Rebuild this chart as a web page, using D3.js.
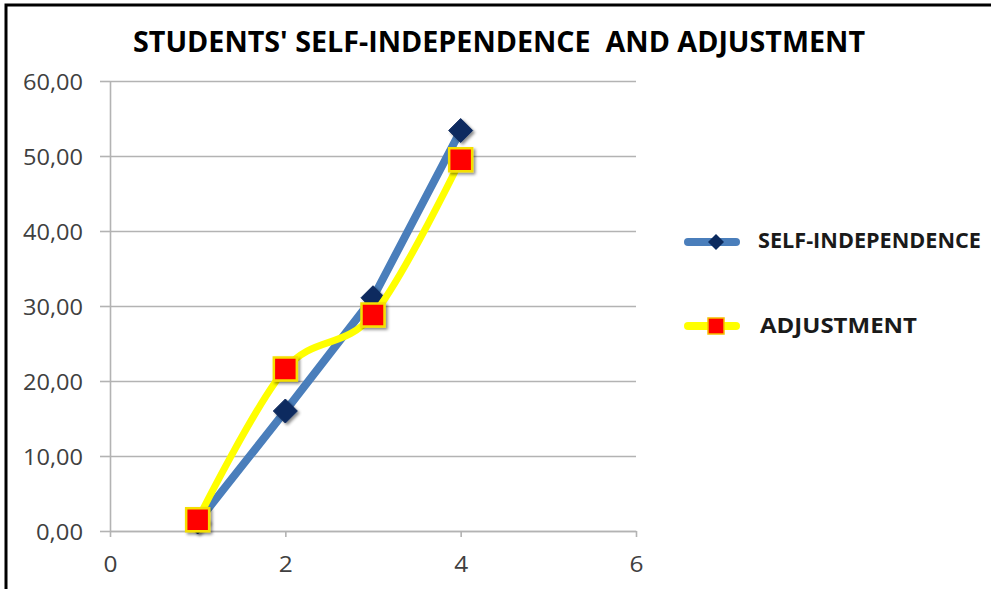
<!DOCTYPE html>
<html>
<head>
<meta charset="utf-8">
<script src="https://cdn.jsdelivr.net/npm/d3@7"></script>
<style>
  body { margin: 0; background: #fff; }
  text { font-family: "Open Sans", sans-serif; }
</style>
</head>
<body>
<div id="chart"></div>
<script>
var xValues = [1, 2, 3, 4];
var selfIndependence = [1.2, 16.0, 31.1, 53.4];
var adjustment = [1.5, 21.6, 28.8, 49.5];
var xTicks = [0, 2, 4, 6];
var yTicks = [0, 10, 20, 30, 40, 50, 60];
var seriesNames = ["SELF-INDEPENDENCE", "ADJUSTMENT"];

var width = 991, height = 589;
var svg = d3.select("#chart").append("svg")
    .attr("width", width)
    .attr("height", height);

var defs = svg.append("defs");
var shadow = defs.append("filter").attr("id", "shadow")
    .attr("x", "-50%").attr("y", "-50%").attr("width", "200%").attr("height", "200%");
shadow.append("feDropShadow")
    .attr("dx", 2).attr("dy", 2).attr("stdDeviation", 1.8)
    .attr("flood-color", "#000").attr("flood-opacity", 0.45);

// frame (left and top only)
svg.append("path")
    .attr("d", "M6," + height + "V5H" + width)
    .attr("fill", "none")
    .attr("stroke", "#000")
    .attr("stroke-width", 3);

var x = d3.scaleLinear().domain([0, 6]).range([110, 636]);
var y = d3.scaleLinear().domain([0, 60]).range([531, 81]);

var comma = d3.formatLocale({decimal: ",", thousands: ".", grouping: [3], currency: ["", ""]});
var fmt = comma.format(".2f");

// gridlines
svg.append("g")
    .attr("transform", "translate(110,0)")
    .call(d3.axisLeft(y).tickValues(yTicks).tickSize(-526).tickFormat(""))
    .call(function(g) {
      g.select(".domain").remove();
      g.selectAll("line").attr("stroke", "#b3b3b3").attr("stroke-width", 1.6);
    });

var yAxis = svg.append("g")
    .attr("transform", "translate(110,0)")
    .call(d3.axisLeft(y).tickValues(yTicks).tickSize(10).tickSizeOuter(0).tickPadding(17).tickFormat(fmt));
yAxis.select(".domain").attr("stroke", "#b3b3b3").attr("stroke-width", 1.6);
yAxis.selectAll("line").attr("stroke", "#b3b3b3").attr("stroke-width", 1.6);
yAxis.selectAll("text")
    .attr("font-size", 22)
    .attr("fill", "#404040")
    .attr("font-family", "Open Sans, sans-serif")
    .attr("textLength", function(d) { return fmt(d).length === 5 ? 60 : 47; })
    .attr("lengthAdjust", "spacingAndGlyphs")
    .attr("dy", "0.38em");

var xAxis = svg.append("g")
    .attr("transform", "translate(0,531)")
    .call(d3.axisBottom(x).tickValues(xTicks).tickSize(6).tickSizeOuter(0).tickPadding(19).tickFormat(d3.format("d")));
xAxis.select(".domain").attr("stroke", "#b3b3b3").attr("stroke-width", 1.6);
xAxis.selectAll("line").attr("stroke", "#b3b3b3").attr("stroke-width", 1.6);
xAxis.selectAll("text")
    .attr("font-size", 22)
    .attr("fill", "#404040")
    .attr("font-family", "Open Sans, sans-serif")
    .attr("textLength", 14)
    .attr("lengthAdjust", "spacingAndGlyphs");

// title
svg.append("text")
    .attr("x", 133)
    .attr("y", 52)
    .attr("font-size", 28)
    .attr("font-weight", "bold")
    .attr("fill", "#000")
    .attr("textLength", 732)
    .attr("lengthAdjust", "spacingAndGlyphs")
    .style("white-space", "pre")
    .text("STUDENTS' SELF-INDEPENDENCE  AND ADJUSTMENT");

var selfData = xValues.map(function(d, i) { return [d, selfIndependence[i]]; });
var adjData = xValues.map(function(d, i) { return [d, adjustment[i]]; });

var lineStraight = d3.line()
    .x(function(d) { return x(d[0]); })
    .y(function(d) { return y(d[1]); });
var lineSmooth = d3.line()
    .x(function(d) { return x(d[0]); })
    .y(function(d) { return y(d[1]); })
    .curve(d3.curveCardinal.tension(0));

svg.append("path")
    .datum(selfData)
    .attr("d", lineStraight)
    .attr("fill", "none")
    .attr("stroke", "#4a7ebb")
    .attr("stroke-width", 8)
    .attr("stroke-linejoin", "round")
    .attr("stroke-linecap", "round");

svg.selectAll(".diamond")
    .data(selfData)
  .enter().append("path")
    .attr("class", "diamond")
    .attr("transform", function(d) { return "translate(" + x(d[0]) + "," + y(d[1]) + ")"; })
    .attr("d", "M0,-12L12,0L0,12L-12,0Z")
    .attr("fill", "#0b2a5e")
    .attr("stroke", "#0b2a5e")
    .attr("stroke-width", 1)
    .attr("filter", "url(#shadow)");

svg.append("path")
    .datum(adjData)
    .attr("d", lineSmooth)
    .attr("fill", "none")
    .attr("stroke", "#ffff00")
    .attr("stroke-width", 7)
    .attr("stroke-linejoin", "round")
    .attr("stroke-linecap", "round");

svg.selectAll(".square")
    .data(adjData)
  .enter().append("rect")
    .attr("class", "square")
    .attr("x", function(d) { return x(d[0]) - 11.5; })
    .attr("y", function(d) { return y(d[1]) - 11.5; })
    .attr("width", 23)
    .attr("height", 23)
    .attr("fill", "#ff0000")
    .attr("stroke", "#f5e000")
    .attr("stroke-width", 2.5)
    .attr("filter", "url(#shadow)");

// legend
var legend = svg.append("g");
legend.append("line")
    .attr("x1", 688).attr("x2", 736).attr("y1", 242).attr("y2", 242)
    .attr("stroke", "#4a7ebb").attr("stroke-width", 8).attr("stroke-linecap", "round");
legend.append("path")
    .attr("transform", "translate(716,242)")
    .attr("d", "M0,-8L8,0L0,8L-8,0Z")
    .attr("fill", "#0b2a5e");
legend.append("text")
    .attr("x", 758).attr("y", 248)
    .attr("font-size", 22).attr("font-weight", "bold").attr("fill", "#1a1a1a")
    .attr("textLength", 223).attr("lengthAdjust", "spacingAndGlyphs")
    .text(seriesNames[0]);

legend.append("line")
    .attr("x1", 688).attr("x2", 736).attr("y1", 326).attr("y2", 326)
    .attr("stroke", "#ffff00").attr("stroke-width", 8).attr("stroke-linecap", "round");
legend.append("rect")
    .attr("x", 708).attr("y", 318).attr("width", 16).attr("height", 16)
    .attr("fill", "#ff0000").attr("stroke", "#f5c000").attr("stroke-width", 1.5);
legend.append("text")
    .attr("x", 760).attr("y", 333)
    .attr("font-size", 22).attr("font-weight", "bold").attr("fill", "#1a1a1a")
    .attr("textLength", 157).attr("lengthAdjust", "spacingAndGlyphs")
    .text(seriesNames[1]);
</script>
</body>
</html>
